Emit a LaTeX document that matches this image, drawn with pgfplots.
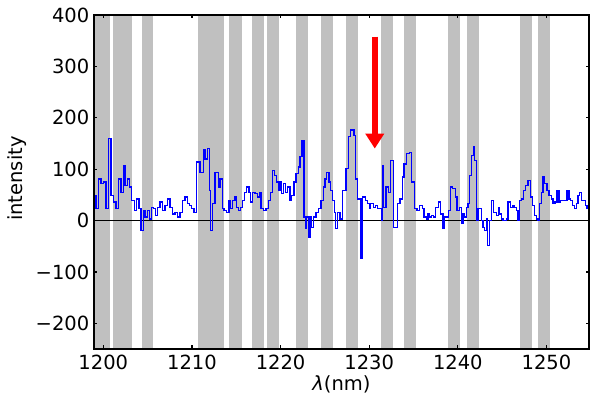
\documentclass[border=0pt]{standalone}
\usepackage{fontspec}
\setmainfont{DejaVu Sans}
\usepackage{pgfplots}
\pgfplotsset{compat=1.18}
\usetikzlibrary{arrows.meta}
\definecolor{bandgray}{RGB}{192,192,192}
\definecolor{lineblue}{RGB}{0,0,255}
\pgfplotstableread{
a b
1198.5 1200.76
1201.06 1203.20
1204.33 1205.64
1210.65 1213.64
1214.17 1215.67
1216.80 1218.12
1218.43 1219.78
1221.73 1223.05
1224.55 1225.90
1227.40 1228.75
1231.31 1232.63
1233.94 1235.26
1238.84 1240.22
1241.09 1242.44
1247.02 1248.38
1249.10 1250.45
}\bands
\usepackage{pgfplotstable}
\begin{document}
\begin{tikzpicture}[font=\fontsize{19.5}{23}\selectfont]
\begin{axis}[
  scale only axis, width=495pt, height=334pt,
  xmin=1198.95, xmax=1254.8, ymin=-250, ymax=400,
  axis line style={line width=1.4pt},
  tick align=inside, major tick length=3.5pt,
  tick style={line width=1.2pt, black},
  xtick={1200,1210,1220,1230,1240,1250},
  xticklabels={1200,1210,1220,1230,1240,1250},
  ytick={-200,-100,0,100,200,300,400},
  yticklabels={−200,−100,0,100,200,300,400},
  xticklabel style={inner sep=0pt, anchor=north, yshift=-6pt},
  yticklabel style={inner sep=0pt, anchor=east, xshift=-4.5pt},
  xlabel={{\itshape λ}(nm)},
  ylabel={intensity},
  every axis x label/.style={at={(axis description cs:0.5,-0.105)}, anchor=center},
  every axis y label/.style={at={(axis description cs:-0.156,0.51)}, anchor=center, rotate=90},
  clip=true,
  axis on top,
]
\pgfplotstablegetrowsof{\bands}
\pgfmathtruncatemacro{\nb}{\pgfplotsretval-1}
\pgfplotsforeachungrouped \i in {0,...,\nb}{%
  \pgfplotstablegetelem{\i}{a}\of{\bands}\let\ba\pgfplotsretval
  \pgfplotstablegetelem{\i}{b}\of{\bands}\let\bb\pgfplotsretval
  \edef\tmp{\noexpand\fill[bandgray] (axis cs:\ba,-260) rectangle (axis cs:\bb,410);}%
  \tmp
}
\addplot[black, line width=1.2pt] coordinates {(1198.95,0) (1254.8,0)};
\addplot[draw=lineblue, line width=1.3pt, const plot mark left] table {
x y
1198.95 49
1199.18 23
1199.44 81
1199.74 72
1200.00 75
1200.30 23
1200.57 159
1200.87 49
1201.13 36
1201.43 23
1201.70 81
1202.00 55
1202.26 107
1202.45 68
1202.71 81
1202.94 65
1203.20 39
1203.50 20
1203.76 42
1204.03 23
1204.25 -20
1204.51 20
1204.70 7
1204.97 20
1205.19 3
1205.45 26
1205.64 23
1205.91 10
1206.13 26
1206.39 36
1206.66 20
1206.96 29
1207.22 42
1207.52 26
1207.79 13
1208.09 16
1208.39 7
1208.65 16
1208.91 39
1209.21 46
1209.48 33
1209.70 29
1209.97 23
1210.23 16
1210.53 114
1210.90 94
1211.28 137
1211.47 120
1211.73 140
1211.96 59
1212.11 -20
1212.30 33
1212.60 94
1212.97 65
1213.16 81
1213.42 23
1213.61 20
1213.91 16
1214.17 39
1214.36 23
1214.55 39
1214.85 46
1215.04 26
1215.23 20
1215.49 26
1215.72 39
1215.90 55
1216.17 65
1216.43 55
1216.62 36
1216.81 55
1217.11 52
1217.37 46
1217.60 55
1217.78 23
1218.05 20
1218.35 23
1218.61 39
1218.87 55
1219.06 98
1219.29 88
1219.55 75
1219.74 59
1219.93 75
1220.11 52
1220.30 72
1220.53 55
1220.75 65
1221.05 39
1221.24 49
1221.50 75
1221.73 91
1221.99 104
1222.18 124
1222.41 156
1222.63 7
1222.78 -16
1222.93 7
1223.12 -33
1223.31 7
1223.50 -13
1223.68 7
1223.99 16
1224.25 23
1224.55 39
1224.81 65
1225.00 81
1225.19 94
1225.45 75
1225.64 59
1225.83 39
1226.05 16
1226.20 -16
1226.39 16
1226.69 3
1226.99 59
1227.37 101
1227.63 163
1227.89 176
1228.27 166
1228.46 81
1228.68 42
1229.06 -74
1229.25 46
1229.59 39
1229.81 33
1230.00 23
1230.15 33
1230.45 26
1230.71 29
1230.94 23
1231.20 23
1231.39 0
1231.50 107
1231.65 26
1231.88 65
1232.14 55
1232.41 117
1232.78 -13
1233.16 33
1233.46 42
1233.72 85
1233.91 110
1234.21 130
1234.51 133
1234.77 75
1235.15 23
1235.41 20
1235.71 29
1235.98 23
1236.20 7
1236.46 3
1236.65 13
1236.84 7
1237.03 10
1237.22 7
1237.52 26
1237.78 36
1238.08 13
1238.34 -16
1238.53 7
1238.91 20
1239.17 65
1239.40 62
1239.73 46
1239.92 20
1240.15 26
1240.41 -6
1240.60 13
1240.79 7
1240.98 26
1241.16 33
1241.35 88
1241.54 127
1241.73 143
1241.91 117
1242.10 0
1242.29 23
1242.67 0
1242.85 -13
1243.04 -20
1243.23 3
1243.34 -49
1243.61 0
1243.79 39
1244.06 16
1244.36 10
1244.55 26
1244.73 13
1244.92 3
1245.11 0
1245.49 3
1245.67 36
1245.94 26
1246.24 29
1246.43 26
1246.61 20
1246.80 0
1246.99 39
1247.18 42
1247.37 59
1247.67 68
1247.93 78
1248.19 46
1248.42 29
1248.68 10
1248.87 3
1249.06 0
1249.24 33
1249.43 55
1249.62 85
1249.81 72
1250.07 59
1250.30 49
1250.56 42
1250.75 33
1250.97 36
1251.20 59
1251.42 36
1251.61 39
1251.88 39
1252.06 39
1252.33 59
1252.55 42
1252.70 39
1252.93 29
1253.19 23
1253.38 33
1253.57 49
1253.76 55
1253.94 39
1254.13 39
1254.43 29
1254.58 23
1254.80 23
};
\draw[red, line width=5.5pt, -{Triangle[width=18pt,length=15pt]}] (axis cs:1230.63,358) -- (axis cs:1230.63,140);
\end{axis}
\pgfresetboundingbox
\path[use as bounding box] ([xshift=-94pt,yshift=-52pt]current axis.south west) rectangle ([xshift=1pt,yshift=15pt]current axis.north east);
\end{tikzpicture}
\end{document}
